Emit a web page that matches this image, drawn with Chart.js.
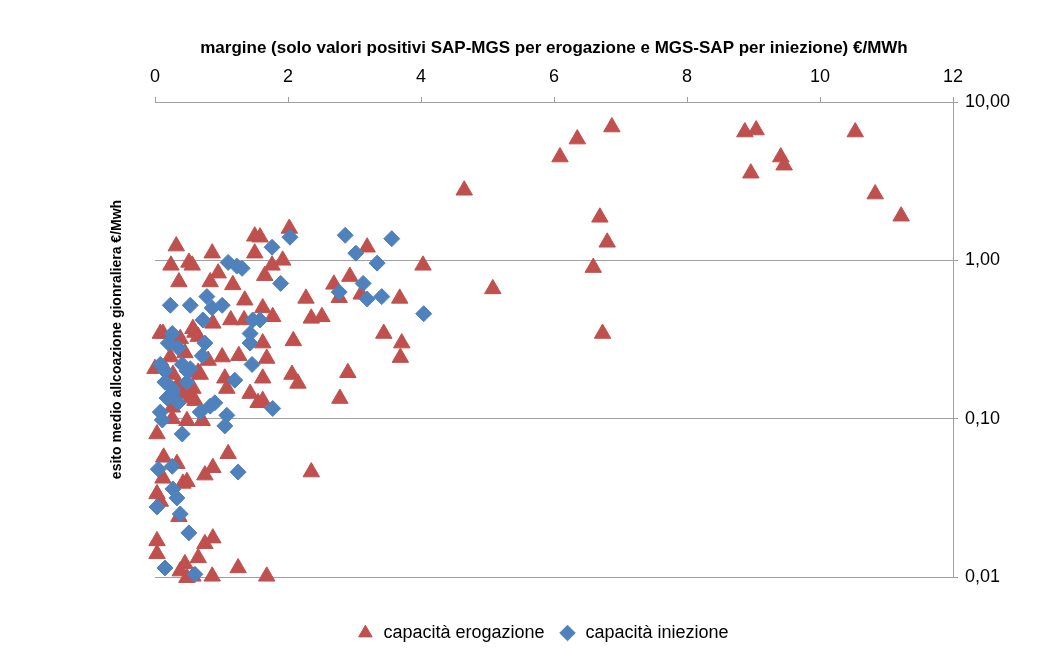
<!DOCTYPE html>
<html><head><meta charset="utf-8">
<script src="https://cdn.jsdelivr.net/npm/chart.js@4.4.1/dist/chart.umd.min.js"></script>
<style>html,body{margin:0;padding:0;background:#fff}#wrap{width:1059px;height:659px}</style>
</head><body><div id="wrap"><canvas id="c" width="1059" height="659"></canvas></div>
<script>
const seriesNames = ['capacità erogazione', 'capacità iniezione'];
const xTitle = 'margine (solo valori positivi SAP-MGS per erogazione e MGS-SAP per iniezione) €/MWh';
const yTitle = 'esito medio allcoazione gionraliera €/Mwh';
const xTickValues = [0, 2, 4, 6, 8, 10, 12];
const yTickValues = [0.01, 0.1, 1, 10];

const erogazioneX = [
  6.87, 6.35, 6.09, 4.65, 8.87, 9.04, 10.53, 9.41, 9.46, 8.96, 10.83, 11.22, 6.69, 6.80, 6.59, 6.73, 5.08, 4.03,
  2.02, 3.19, 2.93, 2.69, 2.77, 3.10, 3.68, 2.27, 2.35, 2.51, 1.77, 1.62, 2.08, 3.44, 3.71, 3.69, 1.62, 1.68,
  2.06, 2.15, 2.90, 2.78, 1.62, 1.62, 2.35, 1.58, 1.92, 1.76, 1.65,
  0.32, 0.86, 1.50, 1.50, 0.24, 0.51, 0.56, 0.36, 0.95, 0.83, 1.17, 1.35, 0.87, 1.14, 0.57, 0.65, 0.12, 0.38,
  1.34, 1.26, 1.01, 0.80, 0.23, 0.00, 1.05, 1.08, 0.65, 1.43, 1.55, 0.42, 0.60, 0.26, 0.48, 0.71, 0.08, 0.60,
  0.27, 0.68, 0.57, 0.53, 0.26, 0.14, 0.45, 0.35,
  0.03, 0.13, 0.33, 0.87, 1.10, 0.75, 0.48, 0.12, 0.42, 0.03, 0.08, 0.36, 0.03, 0.03, 0.75, 0.87, 0.65, 0.45,
  0.38, 1.25, 0.86, 1.68, 0.48, 0.57
];
const erogazioneY = [
  6.95, 5.83, 4.49, 2.77, 6.46, 6.65, 6.46, 4.49, 3.99, 3.55, 2.62, 1.90, 1.87, 1.30, 0.90, 0.345, 0.66, 0.93,
  1.59, 1.21, 0.79, 0.705, 0.58, 0.61, 0.575, 0.575, 0.43, 0.44, 0.44, 0.50, 0.31, 0.345, 0.30, 0.243, 0.30, 0.24,
  0.19, 0.167, 0.195, 0.134, 0.18, 0.13, 0.046, 1.40, 1.00, 0.93, 0.80,
  1.23, 1.11, 1.42, 1.11, 0.93, 0.97, 0.93, 0.73, 0.83, 0.73, 0.70, 0.56, 0.40, 0.42, 0.37, 0.33, 0.345, 0.32,
  0.42, 0.25, 0.245, 0.233, 0.245, 0.207, 0.18, 0.155, 0.196, 0.144, 0.126, 0.144, 0.13, 0.10, 0.097, 0.097, 0.345, 0.35,
  0.19, 0.19, 0.155, 0.135, 0.118, 0.21, 0.26, 0.165,
  0.080, 0.057, 0.052, 0.049, 0.060, 0.044, 0.040, 0.042, 0.039, 0.0335, 0.030, 0.024, 0.0169, 0.014, 0.0162, 0.0176, 0.0132, 0.0121,
  0.0109, 0.0114, 0.0101, 0.0101, 0.0099, 0.0101
];
const iniezioneX = [
  2.03, 2.86, 3.56, 1.76, 3.02, 3.34, 1.89, 3.13, 2.77, 3.19, 3.41, 4.04, 1.77, 1.58,
  1.10, 1.23, 1.31, 0.78, 0.23, 0.53, 0.86, 1.01, 0.72, 1.47, 1.43, 0.26, 0.75, 0.20, 0.35, 1.43, 0.71, 0.08,
  0.41, 0.53, 1.46, 0.15, 0.26, 0.48, 1.20, 0.18, 0.35, 0.90, 0.83, 0.68, 0.08, 1.08, 0.41, 1.05, 0.11, 0.15,
  0.48, 0.26,
  0.05, 0.26, 1.25, 0.27, 0.33, 0.03, 0.38, 0.51, 0.15, 0.60
];
const iniezioneY = [
  1.40, 1.44, 1.37, 1.21, 1.11, 0.96, 0.715, 0.715, 0.63, 0.57, 0.59, 0.46, 0.116, 0.42,
  0.97, 0.92, 0.89, 0.59, 0.52, 0.52, 0.50, 0.52, 0.42, 0.42, 0.345, 0.345, 0.30, 0.30, 0.28, 0.30, 0.25, 0.22,
  0.22, 0.207, 0.22, 0.17, 0.155, 0.17, 0.175, 0.135, 0.126, 0.126, 0.12, 0.11, 0.11, 0.105, 0.080, 0.090, 0.098, 0.20,
  0.20, 0.145,
  0.048, 0.050, 0.046, 0.036, 0.0316, 0.0277, 0.025, 0.019, 0.0114, 0.0104
];

const toPoints = (xs, ys) => xs.map((x, i) => ({ x: x, y: ys[i] }));
const FONT = '"Liberation Sans", Arial, sans-serif';
const GRID = '#a0a0a0';

new Chart(document.getElementById('c'), {
  type: 'scatter',
  data: {
    datasets: [
      {
        label: seriesNames[0],
        data: toPoints(erogazioneX, erogazioneY),
        pointStyle: 'triangle',
        pointRadius: 9.5,
        pointHoverRadius: 9.5,
        backgroundColor: '#C0504D',
        borderColor: '#C0504D',
        borderWidth: 1,
        clip: false,
        order: 1
      },
      {
        label: seriesNames[1],
        data: toPoints(iniezioneX, iniezioneY),
        pointStyle: 'rectRot',
        pointRadius: 8,
        pointHoverRadius: 8,
        backgroundColor: '#4F81BD',
        borderColor: '#4F81BD',
        borderWidth: 1,
        clip: false,
        order: 0
      }
    ]
  },
  options: {
    responsive: false,
    animation: false,
    devicePixelRatio: 1,
    layout: { padding: { left: 26, right: 0, top: 0, bottom: 7 } },
    plugins: {
      tooltip: { enabled: false },
      legend: {
        position: 'bottom',
        labels: {
          usePointStyle: true,
          boxHeight: 11,
          padding: 14,
          color: '#000',
          font: { family: FONT, size: 18 },
          sort: (a, b) => a.datasetIndex - b.datasetIndex
        }
      }
    },
    scales: {
      x: {
        type: 'linear',
        position: 'top',
        min: 0,
        max: 12,
        afterBuildTicks: (s) => { s.ticks = xTickValues.map(v => ({ value: v })); },
        afterFit: (s) => { s.height = 102; },
        ticks: { color: '#000', font: { family: FONT, size: 18 }, padding: 9 },
        grid: { display: true, drawOnChartArea: false, color: GRID, tickLength: 5 },
        border: { display: true, color: GRID },
        title: {
          display: true, text: xTitle, color: '#000',
          font: { family: FONT, size: 17, weight: 'bold' },
          padding: { top: 38, bottom: 0 }
        }
      },
      y: {
        type: 'logarithmic',
        position: 'right',
        min: 0.01,
        max: 10,
        afterBuildTicks: (s) => { s.ticks = yTickValues.map(v => ({ value: v })); },
        afterFit: (s) => { s.width = 106; },
        ticks: {
          color: '#000', font: { family: FONT, size: 18 }, padding: 7,
          callback: (v) => Number(v).toFixed(2).replace('.', ',')
        },
        grid: { display: true, color: GRID, tickLength: 5 },
        border: { display: true, color: GRID }
      },
      yL: {
        type: 'linear',
        position: 'left',
        display: true,
        afterFit: (s) => { s.width = 129; },
        ticks: { display: false },
        grid: { display: false, drawTicks: false },
        border: { display: false },
        title: {
          display: true, text: yTitle, color: '#000',
          font: { family: FONT, size: 14, weight: 'bold' },
          padding: { top: 83, bottom: 0 }
        }
      },
      xB: {
        type: 'linear',
        position: 'bottom',
        display: true,
        afterFit: (s) => { s.height = 33; },
        ticks: { display: false },
        grid: { display: false, drawTicks: false },
        border: { display: false }
      }
    }
  }
});
</script>
</body></html>
